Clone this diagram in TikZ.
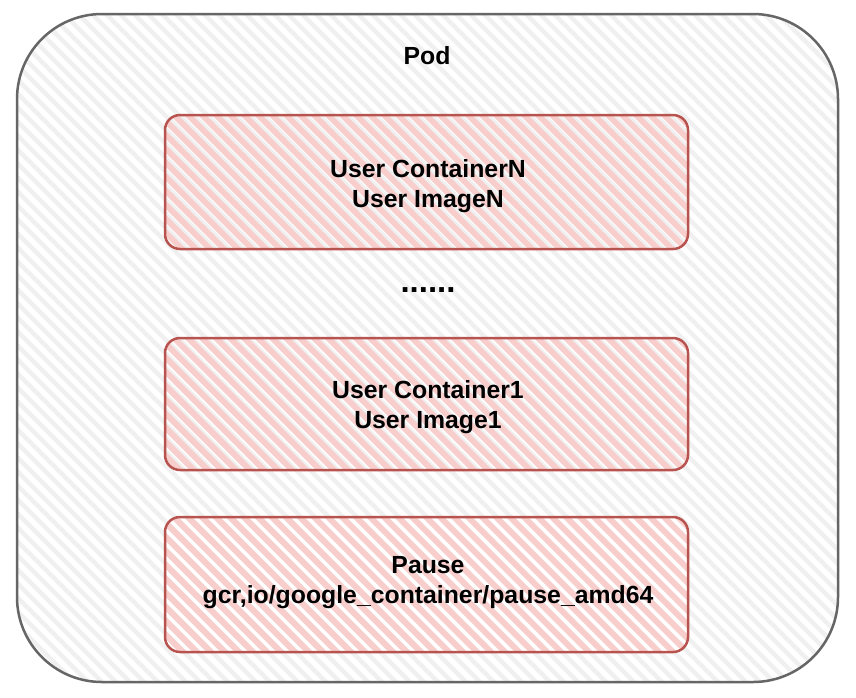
\documentclass[tikz,border=0pt]{standalone}
\usepackage{fontspec}
\setmainfont{Liberation Sans}
\definecolor{outerstroke}{HTML}{666666}
\definecolor{outerhatch}{HTML}{F0F0F0}
\definecolor{redfill}{HTML}{F8CECC}
\definecolor{redstroke}{HTML}{B85450}
\tikzset{
  lbl/.style={font=\fontsize{24.8}{30}\selectfont\bfseries, align=center, text=black, inner sep=0pt},
  redbox/.style={draw=redstroke, line width=2.5pt, rounded corners=15pt},
  outerbox/.style={draw=outerstroke, line width=2.5pt, rounded corners=85pt},
}
\begin{document}
\begin{tikzpicture}[x=1pt,y=-1pt]
\useasboundingbox (0,0) rectangle (856,697);
\fill[white] (0,0) rectangle (856,697);
% outer box hachure
\begin{scope}
  \clip[rounded corners=85pt] (17,14) rectangle (838,682);
  \foreach \i in {-720,-706,...,860} \draw[outerhatch, line width=4.5pt] (\i,0) -- ++(720,720);
\end{scope}
\node[outerbox, minimum width=821pt, minimum height=668pt, inner sep=0pt] (pod) at (427.5,348) {};
\node[lbl] (podlbl) at (427,56) {Pod};
% red boxes
\foreach \nm/\yt/\yb in {bn/115/249, b1/338/470, bp/517/652}{
  \begin{scope}
    \clip[rounded corners=15pt] (165,\yt) rectangle (688,\yb);
    \foreach \i in {-200,-186,...,700} \draw[redfill, line width=6pt] (\i,\yt-10) -- ++(170,170);
  \end{scope}
}
\node[redbox, minimum width=523pt, minimum height=134pt, inner sep=0pt] (boxN) at (426.5,182) {};
\node[redbox, minimum width=523pt, minimum height=132pt, inner sep=0pt] (box1) at (426.5,404) {};
\node[redbox, minimum width=523pt, minimum height=135pt, inner sep=0pt] (boxP) at (426.5,584.5) {};
\node[lbl] (tN) at (428,186) {User ContainerN\\User ImageN};
\node[lbl, font=\fontsize{33}{36}\selectfont\bfseries] (dots) at (428,290) {......};
\node[lbl] (t1) at (428,407) {User Container1\\User Image1};
\node[lbl] (tP) at (428,583) {Pause\\gcr,io/google\_container/pause\_amd64};
\end{tikzpicture}
\end{document}
